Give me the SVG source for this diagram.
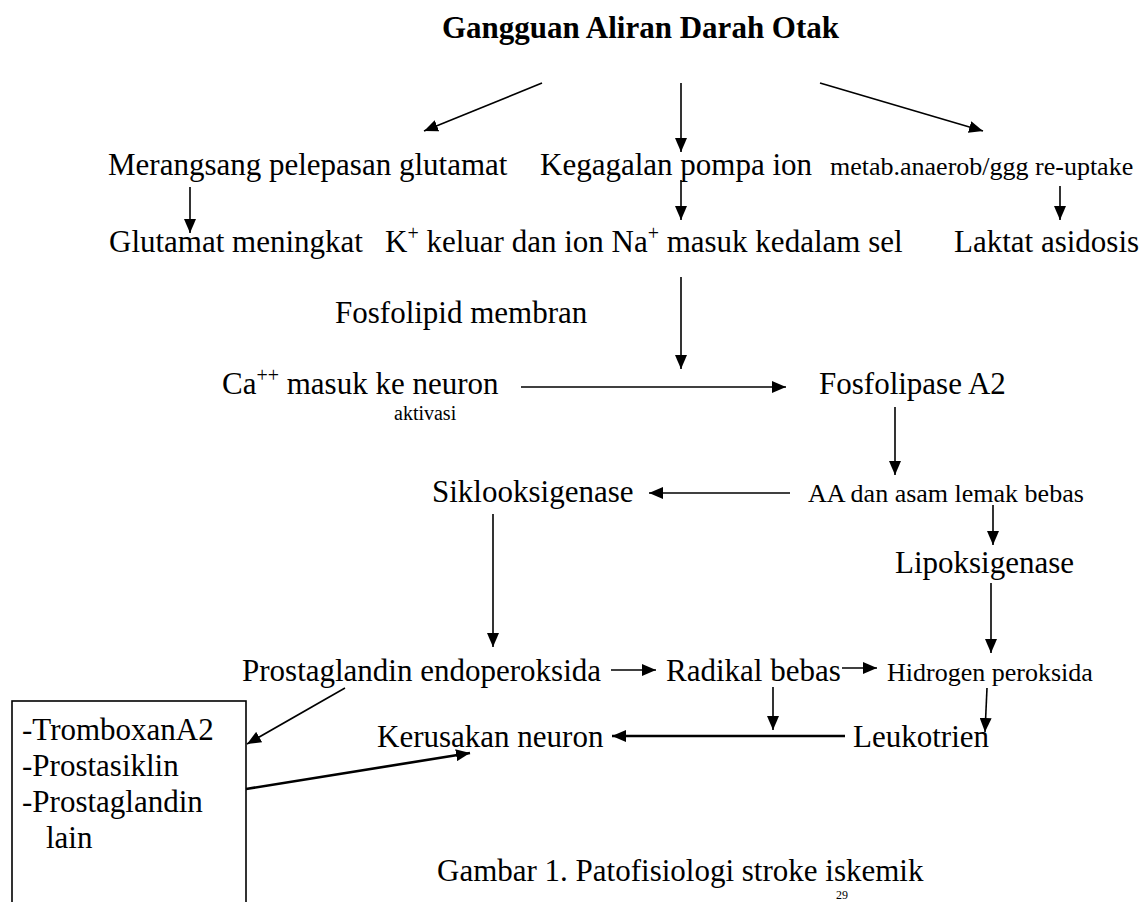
<svg xmlns="http://www.w3.org/2000/svg" width="1141" height="902" viewBox="0 0 1141 902">
<style>
text{font-family:"Liberation Serif","Times New Roman",serif;font-size:31px;fill:#000}
.b{font-weight:bold}
.s{font-size:26px}
.xs{font-size:20px}
.ln{stroke:#000;stroke-width:1.6;fill:none}
.th{stroke-width:2.6}
</style>
<defs>
<marker id="ah" markerWidth="14" markerHeight="12" refX="14" refY="6" orient="auto" markerUnits="userSpaceOnUse"><path d="M0,0 L14,6 L0,12 z" fill="#000"/></marker>
</defs>
<rect width="1141" height="902" fill="#fff"/>
<g id="title"><text class="b" x="442" y="38">Gangguan Aliran Darah Otak</text></g>
<g id="n-merangsang"><text x="108" y="175">Merangsang pelepasan glutamat</text></g>
<g id="n-kegagalan"><text x="540" y="175">Kegagalan pompa ion</text></g>
<g id="n-metab"><text class="s" x="830" y="175">metab.anaerob/ggg re-uptake</text></g>
<g id="n-glutamat"><text x="109" y="252">Glutamat meningkat</text></g>
<g id="n-k"><text x="385" y="252">K<tspan class="xs" dy="-12">+</tspan><tspan dy="12"> keluar dan ion Na</tspan><tspan class="xs" dy="-12">+</tspan><tspan dy="12"> masuk kedalam sel</tspan></text></g>
<g id="n-laktat"><text x="954" y="252">Laktat asidosis</text></g>
<g id="n-fosfolipid"><text x="335" y="323">Fosfolipid membran</text></g>
<g id="n-ca"><text x="222" y="394">Ca<tspan class="xs" dy="-12">++</tspan><tspan dy="12"> masuk ke neuron</tspan></text><text class="xs" x="394" y="420">aktivasi</text></g>
<g id="n-fosfolipase"><text x="819" y="394">Fosfolipase A2</text></g>
<g id="n-siklo"><text x="432" y="502">Siklooksigenase</text></g>
<g id="n-aa"><text class="s" x="808" y="502">AA dan asam lemak bebas</text></g>
<g id="n-lipo"><text x="895" y="573">Lipoksigenase</text></g>
<g id="n-prost"><text x="242" y="681">Prostaglandin endoperoksida</text></g>
<g id="n-radikal"><text x="666" y="681">Radikal bebas</text></g>
<g id="n-hidrogen"><text class="s" x="887" y="681">Hidrogen peroksida</text></g>
<g id="n-kerusakan"><text x="377" y="747">Kerusakan neuron</text></g>
<g id="n-leuko"><text x="853" y="747">Leukotrien</text></g>
<g id="n-box"><rect x="12" y="701" width="234" height="215" fill="none" stroke="#000" stroke-width="1.6"/>
<text x="22" y="740">-TromboxanA2</text><text x="22" y="776">-Prostasiklin</text><text x="22" y="812">-Prostaglandin</text><text x="46" y="848">lain</text></g>
<g id="caption"><text x="437" y="881">Gambar 1. Patofisiologi stroke iskemik</text><text style="font-size:12px" x="836" y="899">29</text></g>
<g id="connectors">
<line class="ln" x1="542" y1="83" x2="424" y2="131" marker-end="url(#ah)"/>
<line class="ln" x1="681" y1="83" x2="681" y2="152" marker-end="url(#ah)"/>
<line class="ln" x1="820" y1="83" x2="983" y2="131" marker-end="url(#ah)"/>
<line class="ln" x1="190" y1="187" x2="190" y2="233" marker-end="url(#ah)"/>
<line class="ln" x1="681" y1="180" x2="681" y2="220" marker-end="url(#ah)"/>
<line class="ln" x1="1060" y1="186" x2="1060" y2="220" marker-end="url(#ah)"/>
<line class="ln" x1="681" y1="277" x2="681" y2="369" marker-end="url(#ah)"/>
<line class="ln" x1="521" y1="387" x2="786" y2="387" marker-end="url(#ah)"/>
<line class="ln" x1="895" y1="407" x2="895" y2="475" marker-end="url(#ah)"/>
<line class="ln" x1="790" y1="493" x2="649" y2="493" marker-end="url(#ah)"/>
<line class="ln" x1="993" y1="505" x2="993" y2="545" marker-end="url(#ah)"/>
<line class="ln" x1="493" y1="514" x2="493" y2="647" marker-end="url(#ah)"/>
<line class="ln" x1="991" y1="583" x2="991" y2="653" marker-end="url(#ah)"/>
<line class="ln" x1="611" y1="670" x2="656" y2="670" marker-end="url(#ah)"/>
<line class="ln" x1="842" y1="668" x2="877" y2="668" marker-end="url(#ah)"/>
<line class="ln" x1="773" y1="687" x2="773" y2="730" marker-end="url(#ah)"/>
<line class="ln" x1="987" y1="688" x2="985" y2="732" marker-end="url(#ah)"/>
<line class="ln th" x1="845" y1="736" x2="612" y2="736" marker-end="url(#ah)"/>
<line class="ln" x1="345" y1="688" x2="247" y2="744" marker-end="url(#ah)"/>
<line class="ln th" x1="246" y1="789" x2="470" y2="753" marker-end="url(#ah)"/>
</g>
</svg>
